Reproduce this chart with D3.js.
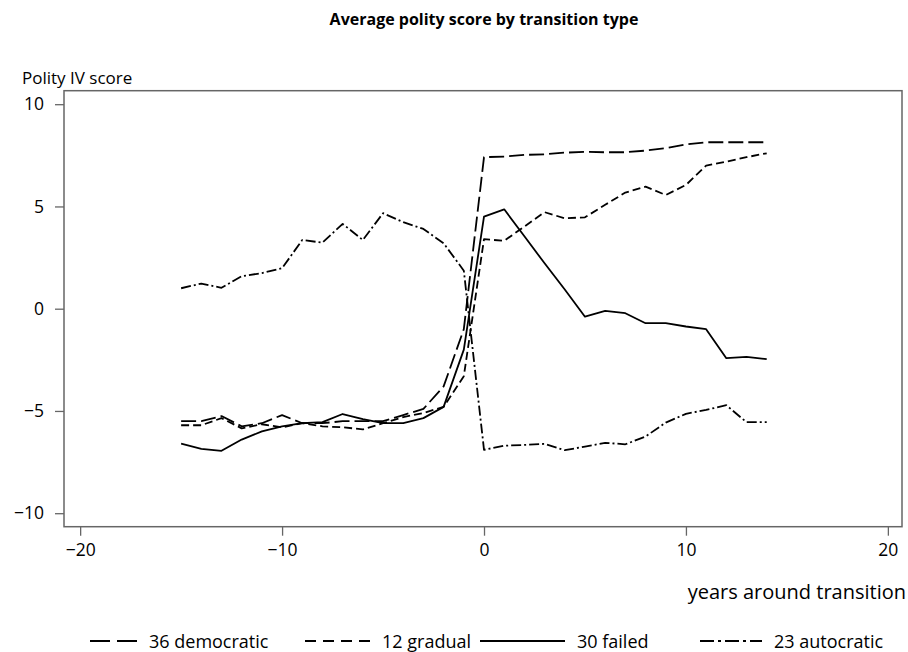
<!DOCTYPE html>
<html>
<head>
<meta charset="utf-8">
<script src="https://cdnjs.cloudflare.com/ajax/libs/d3/7.8.5/d3.min.js"></script>
<style>
  body { margin: 0; background: #fff; }
  svg { display: block; font-family: "Open Sans", sans-serif; }
</style>
</head>
<body>
<div id="wrapper"></div>
<script>
// years around the transition
const years = d3.range(-15, 15)

// average Polity IV score, one value per year above
const democratic = [-5.5, -5.5, -5.25, -5.75, -5.6, -5.2, -5.6, -5.6, -5.5, -5.5, -5.5, -5.2, -4.9, -3.8, -1.0,
                    7.41, 7.44, 7.52, 7.55, 7.63, 7.67, 7.65, 7.65, 7.73, 7.85, 8.03, 8.14, 8.14, 8.14, 8.14]
const gradual = [-5.7, -5.7, -5.35, -5.85, -5.65, -5.8, -5.6, -5.75, -5.8, -5.9, -5.6, -5.3, -5.1, -4.8, -3.3,
                 3.4, 3.32, 4.02, 4.72, 4.42, 4.47, 5.08, 5.68, 5.97, 5.56, 6.05, 7.0, 7.19, 7.41, 7.6]
const failed = [-6.6, -6.85, -6.95, -6.4, -6.0, -5.75, -5.6, -5.55, -5.15, -5.4, -5.6, -5.6, -5.35, -4.8, -2.0,
                4.5, 4.86, 3.54, 2.22, 0.94, -0.39, -0.11, -0.22, -0.71, -0.71, -0.87, -1.0, -2.42, -2.36, -2.47]
const autocratic = [1.0, 1.23, 1.02, 1.59, 1.74, 1.98, 3.36, 3.23, 4.15, 3.36, 4.67, 4.23, 3.9, 3.2, 1.86,
                    -6.9, -6.7, -6.66, -6.61, -6.92, -6.74, -6.56, -6.63, -6.25, -5.57, -5.14, -4.95, -4.72, -5.55, -5.55]

const seriesNames = ["36 democratic", "12 gradual", "30 failed", "23 autocratic"]
const seriesDash = ["15 5", "8 4", null, "10 3 2 3"]
const xTicks = [-20, -10, 0, 10, 20]
const yTicks = [-10, -5, 0, 5, 10]

const series = [democratic, gradual, failed, autocratic].map((vals, i) => ({
    name: seriesNames[i],
    dash: seriesDash[i],
    values: vals.map((v, j) => ({ year: years[j], score: v }))
}))

let dimensions = {
    width: 908,
    height: 652,
    left: 64,
    right: 902,
    top: 90.7,
    bottom: 526.7,
}

const svg = d3.select("#wrapper")
    .append("svg")
    .attr("width", dimensions.width)
    .attr("height", dimensions.height)

const xScale = d3.scaleLinear()
    .domain([-20.8, 20.7])
    .range([dimensions.left, dimensions.right])

const yScale = d3.scaleLinear()
    .domain([-10.66, 10.66])
    .range([dimensions.bottom, dimensions.top])

// title
svg.append("text")
    .attr("x", 484)
    .attr("y", 25)
    .attr("text-anchor", "middle")
    .style("font-weight", "bold")
    .style("font-size", "16px")
    .text("Average polity score by transition type")

svg.append("text")
    .attr("x", 22)
    .attr("y", 84)
    .style("font-size", "17px")
    .text("Polity IV score")

// axes
const fmt = d => d < 0 ? "\u2212" + Math.abs(d) : d

const yAxis = svg.append("g")
    .attr("transform", `translate(${dimensions.left},0)`)
    .call(d3.axisLeft(yScale).tickValues(yTicks).tickSize(9).tickPadding(11).tickFormat(fmt))

const xAxis = svg.append("g")
    .attr("transform", `translate(0,${dimensions.bottom})`)
    .call(d3.axisBottom(xScale).tickValues(xTicks).tickSize(9).tickPadding(8).tickFormat(fmt))

for (const ax of [xAxis, yAxis]) {
    ax.select(".domain").remove()
    ax.selectAll(".tick line").attr("stroke", "#666").attr("stroke-width", 1.3)
    ax.selectAll(".tick text")
        .attr("fill", "#000")
        .style("font-family", "\"Open Sans\", sans-serif")
        .style("font-size", "17.5px")
}

// plot region box
svg.append("rect")
    .attr("x", dimensions.left)
    .attr("y", dimensions.top)
    .attr("width", dimensions.right - dimensions.left)
    .attr("height", dimensions.bottom - dimensions.top)
    .attr("fill", "none")
    .attr("stroke", "#666")
    .attr("stroke-width", 1.5)

svg.append("text")
    .attr("x", 906)
    .attr("y", 599)
    .attr("text-anchor", "end")
    .style("font-size", "20px")
    .text("years around transition")

// lines
const lineGenerator = d3.line()
    .x(d => xScale(d.year))
    .y(d => yScale(d.score))

svg.append("g")
    .selectAll("path")
    .data(series)
    .join("path")
    .attr("d", d => lineGenerator(d.values))
    .attr("fill", "none")
    .attr("stroke", "#000")
    .attr("stroke-width", 1.8)
    .attr("stroke-linejoin", "round")
    .attr("stroke-dasharray", d => d.dash)

// legend
const legendX = [90, 305, 480, 700]
const legendW = [47, 65, 85, 62]
const legend = svg.append("g")
    .selectAll("g")
    .data(series)
    .join("g")
    .attr("transform", (d, i) => `translate(${legendX[i]},641)`)

legend.append("line")
    .attr("x1", 0)
    .attr("x2", (d, i) => legendW[i])
    .attr("stroke", "#000")
    .attr("stroke-width", 1.8)
    .attr("stroke-dasharray", (d, i) => i == 0 ? "20 7" : i == 1 ? "11 7" : i == 3 ? "14 4 3 4" : null)

legend.append("text")
    .attr("x", (d, i) => legendW[i] + 12)
    .attr("y", 6.5)
    .style("font-size", "18px")
    .text(d => d.name)
</script>
</body>
</html>
